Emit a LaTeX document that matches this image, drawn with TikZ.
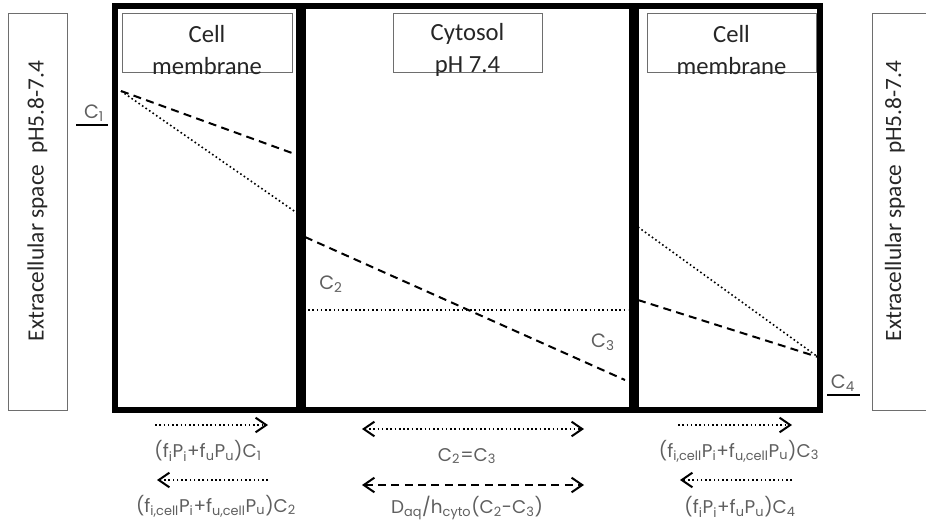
\documentclass[tikz,border=0pt]{standalone}
\usepackage{fontspec}
\setmainfont{Carlito}
\newfontfamily\eqfont{Poppins}
\usetikzlibrary{arrows.meta}
\definecolor{labelgray}{RGB}{95,95,95}
\definecolor{boxgray}{RGB}{110,110,110}

\tikzset{every picture/.style={line width=0.75pt}}
\tikzset{
  wall/.style={line width=3.9pt},
  titlebox/.style={draw=boxgray,line width=0.75pt},
  titletext/.style={align=center,font=\fontsize{18.5}{23.5}\selectfont,text=black!85},
  sidetext/.style={rotate=90,font=\fontsize{17.5}{20}\selectfont,text=black!85},
  dashline/.style={line width=1.5pt,dash pattern=on 6pt off 4pt},
  dotline/.style={line width=1.2pt,dotted},
  conclabel/.style={text=labelgray,font=\eqfont\fontsize{14.5}{16}\selectfont},
  fluxlabel/.style={text=labelgray,font=\eqfont\fontsize{13.8}{15}\selectfont},
  fluxtip/.style={-{Straight Barb[length=8pt,width=11pt,line width=1.5pt]}},
  fluxtips/.style={{Straight Barb[length=8pt,width=11pt,line width=1.5pt]}-{Straight Barb[length=8pt,width=11pt,line width=1.5pt]}},
}

\begin{document}
\begin{tikzpicture}[x=0.75pt,y=0.75pt,yscale=-1,xscale=1]
\path[use as bounding box] (0,0) rectangle (926,522);

%Shape: Rectangle [id:extraL]
\draw [boxgray] (8,13) rectangle (67,410);
%Shape: Rectangle [id:extraR]
\draw [boxgray] (926,13) -- (872,13) -- (872,410) -- (926,410);

%Shape: Rectangle [id:membraneL]
\draw [wall] (115,6) rectangle (299,410);
%Shape: Rectangle [id:cytosol]
\draw [wall] (303,6) rectangle (632,410);
%Shape: Rectangle [id:membraneR]
\draw [wall] (636,6) rectangle (820,410);

%Shape: Rectangle [id:titleL]
\draw [titlebox] (122,13) rectangle (292,72);
%Shape: Rectangle [id:titleM]
\draw [titlebox] (393,13) rectangle (542,72);
%Shape: Rectangle [id:titleR]
\draw [titlebox] (647,13) rectangle (816,72);

% Text Node
\node [titletext] (memL) at (207,50) {Cell\\membrane};
% Text Node
\node [titletext] (cyto) at (467.5,50) {Cytosol\\pH 7.4};
% Text Node
\node [titletext] (memR) at (731.5,50) {Cell\\membrane};
% Text Node
\node [sidetext] (spaceL) at (37.5,201) {Extracellular space\ \ pH5.8-7.4};
% Text Node
\node [sidetext] (spaceR) at (895,201) {Extracellular space\ \ pH5.8-7.4};

%Gradient lines
\draw [dashline] (121,91) -- (292,153);
\draw [dotline] (121,91) -- (297,213);
\draw [dashline] (305,237) -- (625,380);
\draw [dotline] (308,310) -- (628,310);
\draw [dotline] (638,227) -- (818,357);
\draw [dashline] (638,300) -- (818,357);

%Concentrations
\draw [line width=1.5pt] (76,125) -- (108,125);
\node [conclabel] (c1) at (94,113) {C\textsubscript{1}};
\node [conclabel] (c2) at (331,284) {C\textsubscript{2}};
\node [conclabel] (c3) at (603,342) {C\textsubscript{3}};
\draw [line width=1.5pt] (827,395) -- (860,395);
\node [conclabel] (c4) at (843,383) {C\textsubscript{4}};

%Fluxes
\coordinate (a1) at (155,425); \coordinate (a2) at (268,425);
\coordinate (b1) at (268,480); \coordinate (b2) at (157,480);
\coordinate (m1) at (362,429); \coordinate (m2) at (584,429);
\coordinate (n1) at (362,485); \coordinate (n2) at (584,485);
\coordinate (e1) at (678,425); \coordinate (e2) at (792,425);
\coordinate (f1) at (792,480); \coordinate (f2) at (680,480);
\draw [dotline,fluxtip] (a1) -- (a2);
\draw [dotline,fluxtip] (b1) -- (b2);
\draw [dotline,fluxtips] (m1) -- (m2);
\draw [dashline,fluxtips] (n1) -- (n2);
\draw [dotline,fluxtip] (e1) -- (e2);
\draw [dotline,fluxtip] (f1) -- (f2);

% Text Node
\node [fluxlabel] (fa) at (208,451) {(f\textsubscript{i}P\textsubscript{i}+f\textsubscript{u}P\textsubscript{u})C\textsubscript{1}};
% Text Node
\node [fluxlabel] (fb) at (216,506) {(f\textsubscript{i,cell}P\textsubscript{i}+f\textsubscript{u,cell}P\textsubscript{u})C\textsubscript{2}};
% Text Node
\node [fluxlabel] (fm) at (467,456) {C\textsubscript{2}=C\textsubscript{3}};
% Text Node
\node [fluxlabel] (fn) at (467,508) {D\textsubscript{aq}/h\textsubscript{cyto}(C\textsubscript{2}-C\textsubscript{3})};
% Text Node
\node [fluxlabel] (fe) at (739,451) {(f\textsubscript{i,cell}P\textsubscript{i}+f\textsubscript{u,cell}P\textsubscript{u})C\textsubscript{3}};
% Text Node
\node [fluxlabel] (ff) at (740,507) {(f\textsubscript{i}P\textsubscript{i}+f\textsubscript{u}P\textsubscript{u})C\textsubscript{4}};

\end{tikzpicture}
\end{document}
